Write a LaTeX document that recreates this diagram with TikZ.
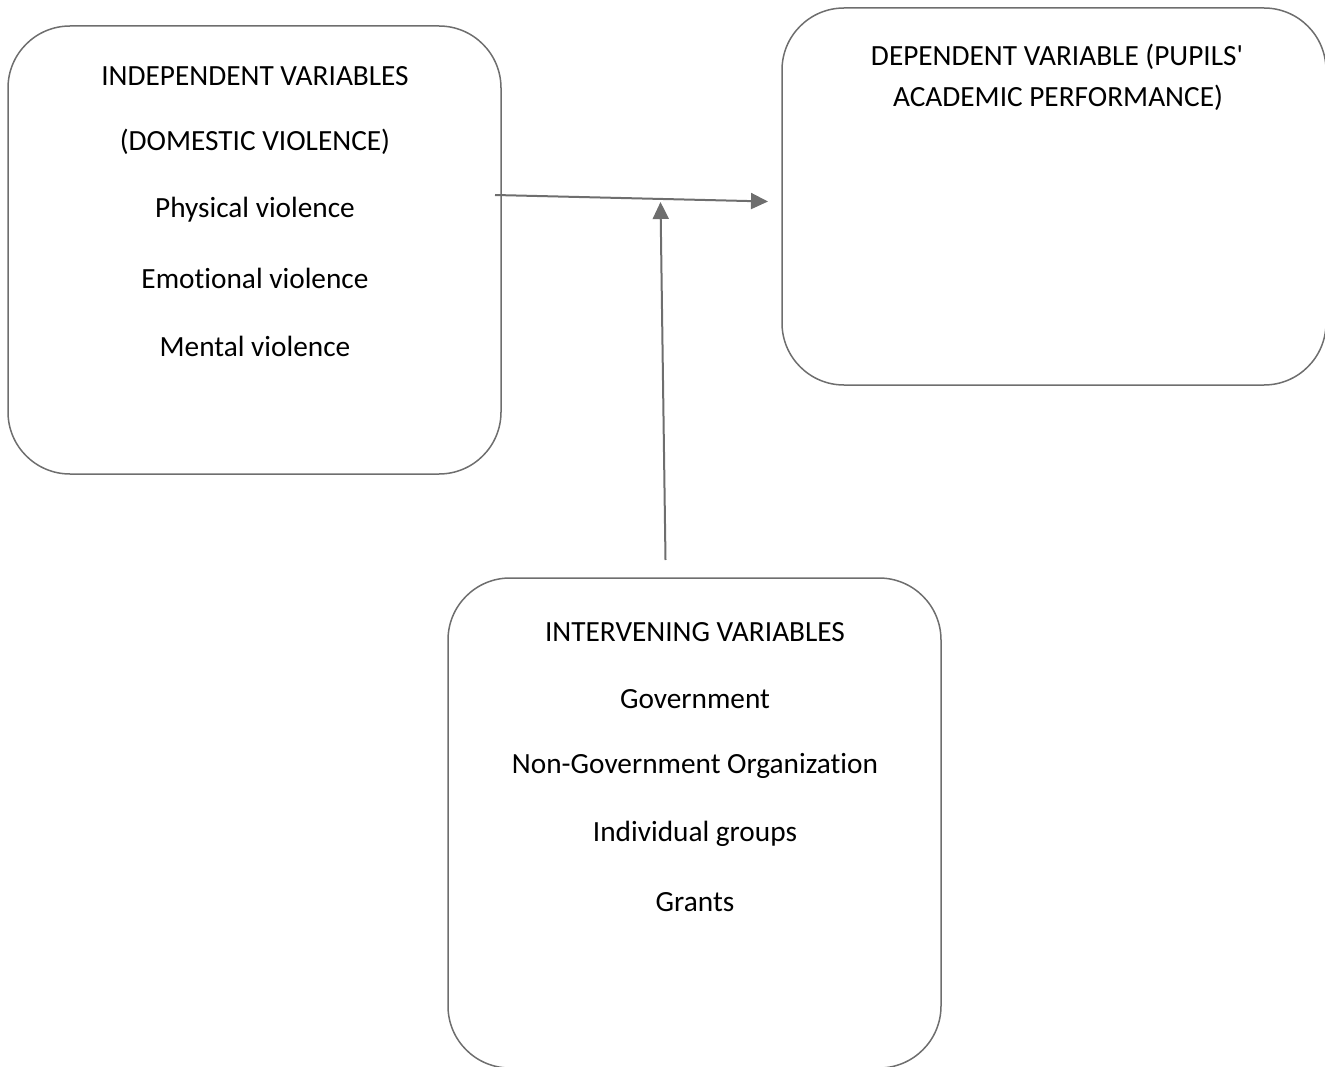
\documentclass[tikz,border=0pt]{standalone}
\usepackage{fontspec}
\setmainfont[Ligatures={NoCommon}]{Carlito}
\usetikzlibrary{arrows.meta}

\definecolor{framegray}{HTML}{6E6E6E}

\tikzset{
  varbox/.style={draw=framegray, line width=1.5pt, rounded corners=62pt, inner sep=0pt},
  vartext/.style={font=\fontsize{29.3}{35}\selectfont, inner sep=0pt},
  link/.style={draw=framegray, line width=2pt, -{Triangle[length=17pt, width=16pt]}}
}

\begin{document}
\begin{tikzpicture}[x=1pt, y=-1pt]
\clip (0,0) rectangle (1325,1067);

% Boxes
\node[varbox, minimum width=493pt, minimum height=448pt] (indep) at (254.5,250) {};
\node[varbox, minimum width=544pt, minimum height=377pt] (dep) at (1054,196.5) {};
\node[varbox, minimum width=493pt, minimum height=490pt] (interv) at (694.5,823) {};

% Independent variables
\node[vartext] (indep1) at (255,76) {INDEPENDENT VARIABLES};
\node[vartext] (indep2) at (255,142) {(DOMESTIC VIOLENCE)};
\node[vartext] (indep3) at (255,210) {Physical violence};
\node[vartext] (indep4) at (255,278) {Emotional violence};
\node[vartext] (indep5) at (255,346) {Mental violence};

% Dependent variable
\node[vartext] (dep1) at (1057,57) {DEPENDENT VARIABLE (PUPILS\textquotesingle};
\node[vartext] (dep2) at (1058,98) {ACADEMIC PERFORMANCE)};

% Intervening variables
\node[vartext] (interv1) at (695,632) {INTERVENING VARIABLES};
\node[vartext] (interv2) at (695,699) {Government};
\node[vartext] (interv3) at (695,766) {Non-Government Organization};
\node[vartext] (interv4) at (695,834) {Individual groups};
\node[vartext] (interv5) at (695,902) {Grants};

% Arrows
\coordinate (hstart) at (495,195);
\coordinate (hend) at (768,201.5);
\coordinate (vstart) at (665.5,560);
\coordinate (vend) at (660.5,202);
\draw[link] (hstart) -- (hend);
\draw[link] (vstart) -- (vend);
\end{tikzpicture}
\end{document}
